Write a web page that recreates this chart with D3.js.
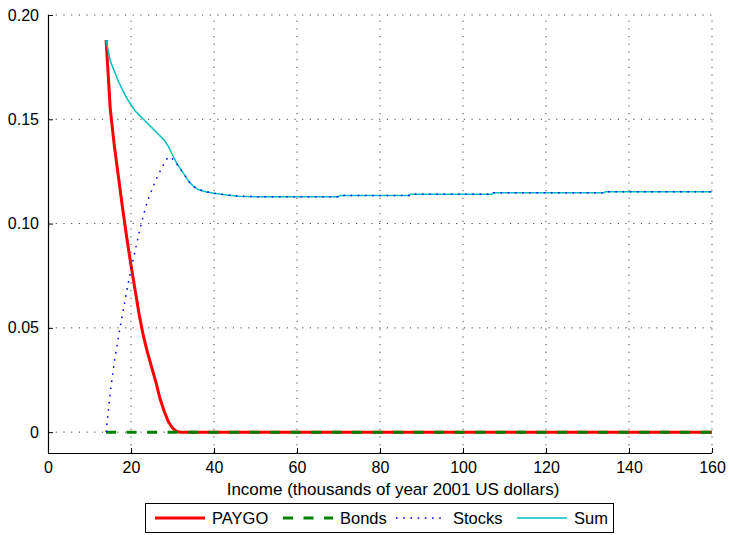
<!DOCTYPE html>
<html><head><meta charset="utf-8">
<script src="https://cdn.jsdelivr.net/npm/d3@7"></script>
<style>body{margin:0;background:#fff}svg{display:block;font-family:"Liberation Sans",Arial,sans-serif}</style>
</head><body><svg id="c" width="730" height="535"></svg>
<script>
const xTicks=[0,20,40,60,80,100,120,140,160];
const yTicks=[0,0.05,0.10,0.15,0.20];
const yTickLabels=["0","0.05","0.10","0.15","0.20"];
const seriesNames=["PAYGO","Bonds","Stocks","Sum"];
const paygoX=[14,15,16,17,18,19,20,21,22,23,24,25,26,27,28,29,30,31,32,160];
const paygoY=[0.188,0.155,0.137,0.122,0.107,0.093,0.080,0.068,0.056,0.046,0.038,0.031,0.024,0.016,0.010,0.005,0.002,0.0003,0,0];
const bondsX=[14,160];
const bondsY=[0,0];
const sumX=[14,15,16,17,18,19,20,21,22,23,24,25,26,27,28,29,30,31,32,33,34,35,36,38,40,43,46,50,70,70.4,87,87.3,107,107.3,134,134.3,160];
const sumY=[0.188,0.178,0.173,0.168,0.164,0.160,0.157,0.154,0.152,0.150,0.148,0.146,0.144,0.142,0.140,0.137,0.133,0.129,0.126,0.123,0.120,0.118,0.1165,0.1153,0.1145,0.1137,0.1131,0.1129,0.1129,0.1135,0.1135,0.1141,0.1141,0.1148,0.1148,0.1153,0.1153];
const stocksX=[14,15,16,17,18,19,20,21,22,23,24,25,26,27,28,29,30,31,32,33,34,35,36,38,40,43,46,50,70,70.4,87,87.3,107,107.3,134,134.3,160];
const stocksY=[0,0.019,0.034,0.046,0.057,0.068,0.078,0.087,0.096,0.104,0.111,0.116,0.121,0.125,0.129,0.132,0.131,0.1287,0.126,0.123,0.120,0.118,0.1165,0.1153,0.1145,0.1137,0.1131,0.1129,0.1129,0.1135,0.1135,0.1141,0.1141,0.1148,0.1148,0.1153,0.1153];

const svg=d3.select("#c");
const L=48,R=712,T=15,B=453;
const x=d3.scaleLinear().domain([0,160]).range([L,R]);
const y=d3.scaleLinear().domain([-0.01,0.20]).range([B,T]);

const grid=svg.append("g").attr("stroke","#444").attr("stroke-width",1).attr("stroke-dasharray","1.2,6.5");
xTicks.filter(d=>d>0).forEach(d=>grid.append("line").attr("x1",x(d)).attr("x2",x(d)).attr("y1",B).attr("y2",T));
yTicks.forEach(d=>grid.append("line").attr("x1",L).attr("x2",R).attr("y1",y(d)).attr("y2",y(d)));

const xa=svg.append("g").attr("transform",`translate(0,${B})`)
 .call(d3.axisBottom(x).tickValues(xTicks).tickSizeInner(-5).tickSizeOuter(0).tickPadding(9).tickFormat(d3.format("d")));
const ya=svg.append("g").attr("transform",`translate(${L},0)`)
 .call(d3.axisLeft(y).tickValues(yTicks).tickSizeInner(-5).tickSizeOuter(0).tickPadding(9).tickFormat((d,i)=>yTickLabels[i]));
[xa,ya].forEach(a=>{a.select(".domain").attr("stroke","#000").attr("stroke-width",1.2);
 a.selectAll(".tick line").attr("stroke","#000");
 a.selectAll("text").attr("font-size",16).attr("fill","#000").attr("font-family","Liberation Sans, Arial, sans-serif");});
ya.select(".domain").attr("d",`M0.5,${B}V${T}`);
xa.select(".domain").attr("d",`M${L},0.5H${R}`);

const line=d3.line().x(d=>x(d[0])).y(d=>y(d[1]));
const zip=(a,b)=>a.map((v,i)=>[v,b[i]]);
const styles=[
 {c:"#ff0000",w:3,da:null},
 {c:"#008000",w:3,da:"10,10.5"},
 {c:"#0000ff",w:1.5,da:"1.6,5.6"},
 {c:"#00bfbf",w:1.5,da:null}];
const data=[zip(paygoX,paygoY),zip(bondsX,bondsY),zip(stocksX,stocksY),zip(sumX,sumY)];
[0,1,3,2].forEach(i=>{
 svg.append("path").attr("d",line(data[i])).attr("fill","none").attr("stroke",styles[i].c)
  .attr("stroke-width",styles[i].w).attr("stroke-dasharray",styles[i].da).attr("stroke-linejoin","round");
});

svg.append("text").attr("x",393).attr("y",495).attr("text-anchor","middle").attr("font-size",17).text("Income (thousands of year 2001 US dollars)");

const lg=svg.append("g");
lg.append("rect").attr("x",145.5).attr("y",503.5).attr("width",468).attr("height",29).attr("fill","#fff").attr("stroke","#000").attr("stroke-width",1);
const lx=[155,283,396,517];
seriesNames.forEach((n,i)=>{
 lg.append("line").attr("x1",lx[i]).attr("x2",lx[i]+50).attr("y1",518).attr("y2",518)
  .attr("stroke",styles[i].c).attr("stroke-width",styles[i].w).attr("stroke-dasharray",styles[i].da);
 lg.append("text").attr("x",lx[i]+57).attr("y",524).attr("font-size",16.5).text(n);
});
</script></body></html>
